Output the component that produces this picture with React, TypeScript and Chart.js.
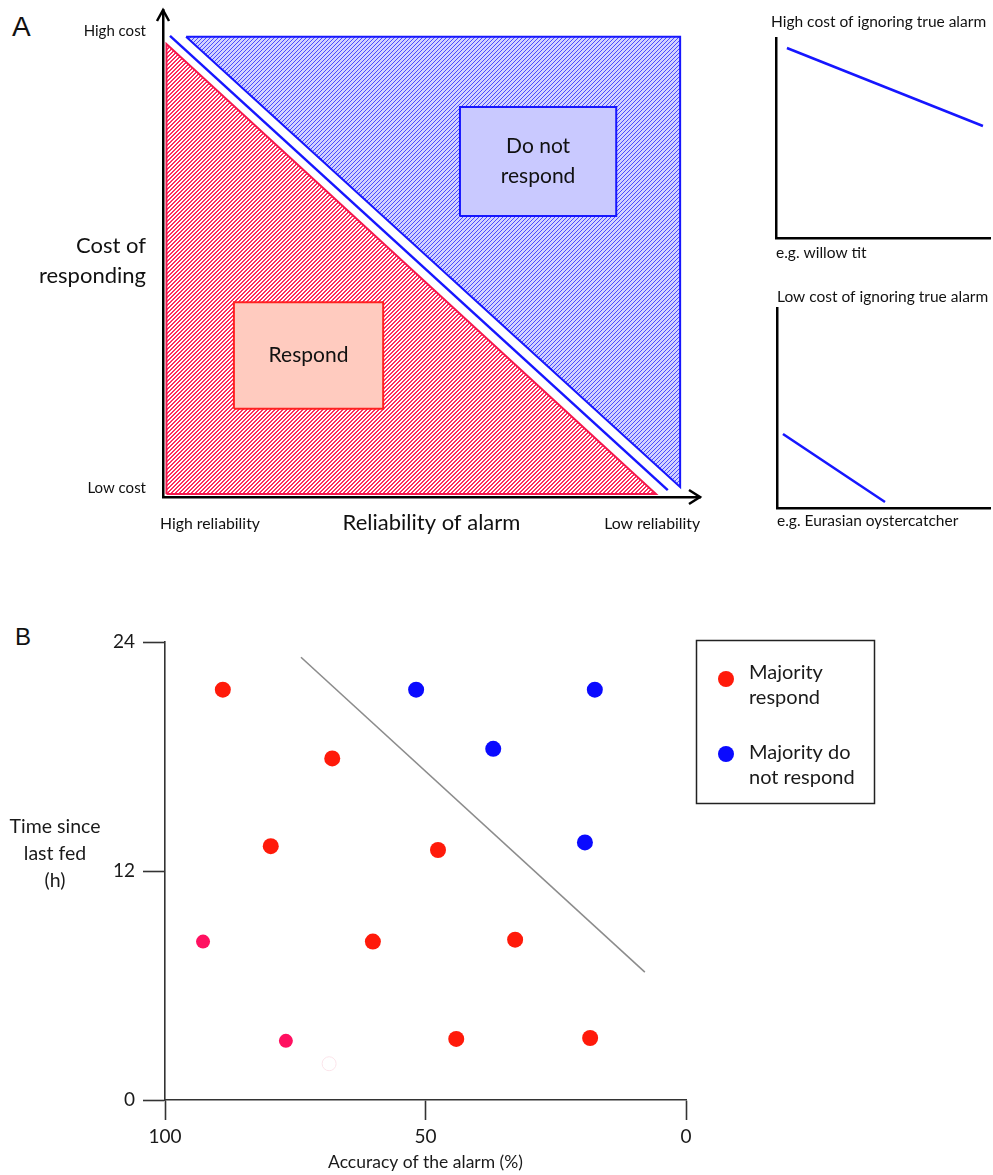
import React, { useEffect, useRef } from "react";
import { Chart, registerables } from "chart.js";

Chart.register(...registerables);

// ---------- Panel A: conceptual diagram (reliability 0..100 left→right, cost 0..100 bottom→top)
const RED_ZONE_X = [0.65, 0.65, 91.8];
const RED_ZONE_Y = [0.6, 93.0, 0.6];
const DIVIDER_X = [1.3, 94.0];
const DIVIDER_Y = [94.7, 1.4];
const BLUE_ZONE_X = [4.3, 96.3, 96.3];
const BLUE_ZONE_Y = [94.5, 94.5, 2.05];
const DNR_BOX_X = [55.3, 84.4];
const DNR_BOX_Y = [57.7, 80.1];
const RESP_BOX_X = [13.2, 41.0];
const RESP_BOX_Y = [18.1, 40.0];
const COST_TICKS = [1.85, 95.7];
const COST_LABELS = ["Low cost", "High cost"];
const RELIAB_TICKS = [8.75, 91.1];
const RELIAB_LABELS = ["High reliability", "Low reliability"];

// ---------- Panel A: small insets
const HIGH_COST_X = [5.1, 96.7];
const HIGH_COST_Y = [95.0, 56.0];
const LOW_COST_X = [2.8, 50.7];
const LOW_COST_Y = [37.0, 3.0];

// ---------- Panel B: scatter
const RESPOND_ACC = [88.9, 67.9, 79.7, 47.6, 92.7, 60.1, 32.8, 76.8, 44.1, 18.4];
const RESPOND_TIME = [21.5, 17.9, 13.3, 13.1, 8.3, 8.3, 8.4, 3.1, 3.2, 3.25];
const RESPOND_COLORS = ["#ff1a0a", "#ff1a0a", "#ff1a0a", "#ff1a0a", "#ff1060", "#ff1a0a", "#ff1a0a", "#ff1060", "#ff1a0a", "#ff1a0a"];
const NORESP_ACC = [51.8, 17.5, 37.0, 19.4];
const NORESP_TIME = [21.5, 21.5, 18.4, 13.5];
const GHOST_ACC = [68.5];
const GHOST_TIME = [1.9];
const BOUNDARY_ACC = [73.9, 7.9];
const BOUNDARY_TIME = [23.2, 6.7];
const ACC_TICKS = [0, 50, 100];
const TIME_TICKS = [0, 12, 24];
const LEGEND_LINES = [["Majority", "respond"], ["Majority do", "not respond"]];

const FONT = "Lato, 'Open Sans', sans-serif";
const RED = "#f5174d";
const BLUE = "#1616ff";

const pts = (xs: number[], ys: number[]) => xs.map((x, i) => ({ x, y: ys[i] }));
const closed = (xs: number[], ys: number[]) => [...pts(xs, ys), { x: xs[0], y: ys[0] }];
const boxFill = (bx: number[], by: number[]) => [
  { x: bx[0], y: by[0] }, { x: bx[0], y: by[1] }, { x: bx[1], y: by[1] }, { x: bx[1], y: by[0] },
];
const boxEdge = (bx: number[], by: number[]) => [...boxFill(bx, by), { x: bx[0], y: by[0] }];

// crisp pixel hatch: "/" diagonals, `thick` pixels wide, repeating every `size` pixels
function makeHatch(bg: string, line: string, thick: number, size: number) {
  const c = document.createElement("canvas");
  c.width = size;
  c.height = size;
  const g = c.getContext("2d")!;
  g.fillStyle = bg;
  g.fillRect(0, 0, size, size);
  g.fillStyle = line;
  for (let i = 0; i < size; i++) {
    for (let k = 0; k < thick; k++) {
      g.fillRect((i + k) % size, size - 1 - i, 1, 1);
    }
  }
  return g.createPattern(c, "repeat")!;
}

const lineBase = { pointRadius: 0, pointHoverRadius: 0, tension: 0 };

function useChart(ref: React.RefObject<HTMLCanvasElement | null>, build: () => any) {
  useEffect(() => {
    if (!ref.current) return;
    const chart = new Chart(ref.current, build());
    return () => chart.destroy();
  }, []);
}

const noPadX = (h: number) => (s: any) => { s.height = h; s.paddingLeft = 0; s.paddingRight = 0; };
const noPadY = (w: number) => (s: any) => { s.width = w; s.paddingTop = 0; s.paddingBottom = 0; };

function MainDiagram() {
  const ref = useRef<HTMLCanvasElement>(null);
  useChart(ref, () => {
    const redHatch = makeHatch("#ffffff", "#ff2d5e", 2, 4);
    const blueHatch = makeHatch("#d2d2ff", "#4a4aff", 1, 4);
    const textPlugin = {
      id: "panelAText",
      afterDraw(chart: any) {
        const { ctx, scales, chartArea } = chart;
        const x = scales.x, y = scales.y;
        ctx.save();
        ctx.fillStyle = "#111";
        ctx.textAlign = "center";
        ctx.textBaseline = "middle";
        ctx.font = `21px ${FONT}`;
        const dx = x.getPixelForValue((DNR_BOX_X[0] + DNR_BOX_X[1]) / 2);
        const dy = y.getPixelForValue((DNR_BOX_Y[0] + DNR_BOX_Y[1]) / 2);
        ctx.fillText("Do not", dx, dy - 15);
        ctx.fillText("respond", dx, dy + 15);
        const rx = x.getPixelForValue((RESP_BOX_X[0] + RESP_BOX_X[1]) / 2);
        const ry = y.getPixelForValue((RESP_BOX_Y[0] + RESP_BOX_Y[1]) / 2);
        ctx.fillText("Respond", rx, ry);
        ctx.font = `22px ${FONT}`;
        ctx.textAlign = "right";
        ctx.fillText("Cost of", 146, 246);
        ctx.fillText("responding", 146, 276);
        // arrowheads
        ctx.strokeStyle = "#000";
        ctx.lineWidth = 2.5;
        ctx.lineJoin = "miter";
        ctx.beginPath();
        ctx.moveTo(chartArea.left - 6, chartArea.top + 11);
        ctx.lineTo(chartArea.left, chartArea.top);
        ctx.lineTo(chartArea.left + 6, chartArea.top + 11);
        ctx.moveTo(chartArea.right - 11, chartArea.bottom - 7);
        ctx.lineTo(chartArea.right, chartArea.bottom);
        ctx.lineTo(chartArea.right - 11, chartArea.bottom + 7);
        ctx.stroke();
        ctx.restore();
      },
    };
    return {
      type: "line",
      data: {
        datasets: [
          { ...lineBase, label: "Respond zone", data: pts(RED_ZONE_X, RED_ZONE_Y), fill: { value: RED_ZONE_Y[0] }, backgroundColor: redHatch, borderWidth: 0, order: 9 },
          { ...lineBase, label: "Respond edge", data: closed(RED_ZONE_X, RED_ZONE_Y), fill: false, borderColor: RED, borderWidth: 2, order: 8 },
          { ...lineBase, label: "No-response zone", data: [{ x: BLUE_ZONE_X[0], y: BLUE_ZONE_Y[0] }, { x: BLUE_ZONE_X[2], y: BLUE_ZONE_Y[2] }], fill: { value: BLUE_ZONE_Y[0] }, backgroundColor: blueHatch, borderWidth: 0, order: 9 },
          { ...lineBase, label: "No-response edge", data: closed(BLUE_ZONE_X, BLUE_ZONE_Y), fill: false, borderColor: BLUE, borderWidth: 2, order: 8 },
          { ...lineBase, label: "Divider", data: pts(DIVIDER_X, DIVIDER_Y), fill: false, borderColor: BLUE, borderWidth: 2.5, order: 7 },
          { ...lineBase, label: "Respond box", data: boxFill(RESP_BOX_X, RESP_BOX_Y), fill: { value: RESP_BOX_Y[0] }, backgroundColor: "#ffcbbf", borderWidth: 0, order: 4 },
          { ...lineBase, label: "Respond box edge", data: boxEdge(RESP_BOX_X, RESP_BOX_Y), fill: false, borderColor: "#ff2222", borderWidth: 2, order: 3 },
          { ...lineBase, label: "Do not respond box", data: boxFill(DNR_BOX_X, DNR_BOX_Y), fill: { value: DNR_BOX_Y[0] }, backgroundColor: "#c9c9ff", borderWidth: 0, order: 4 },
          { ...lineBase, label: "Do not respond box edge", data: boxEdge(DNR_BOX_X, DNR_BOX_Y), fill: false, borderColor: BLUE, borderWidth: 2, order: 3 },
        ],
      },
      options: {
        responsive: false,
        animation: false,
        events: [],
        layout: { padding: { top: 10, right: 60, left: 0, bottom: 0 } },
        plugins: { legend: { display: false }, tooltip: { enabled: false } },
        scales: {
          x: {
            type: "linear", min: 0, max: 100,
            grid: { display: false, drawTicks: false },
            border: { display: true, color: "#000", width: 2.5 },
            afterBuildTicks: (s: any) => { s.ticks = RELIAB_TICKS.map((v) => ({ value: v })); },
            afterFit: noPadX(63),
            ticks: {
              autoSkip: false, maxRotation: 0, padding: 17, color: "#111",
              font: { family: FONT, size: 15.8 },
              callback: (v: number) => RELIAB_LABELS[RELIAB_TICKS.indexOf(v)],
            },
            title: { display: true, text: "Reliability of alarm", color: "#111", font: { family: FONT, size: 22 }, padding: { top: 0, bottom: 23.5 } },
          },
          y: {
            type: "linear", min: 0, max: 100,
            grid: { display: false, drawTicks: false },
            border: { display: true, color: "#000", width: 2.5 },
            afterBuildTicks: (s: any) => { s.ticks = COST_TICKS.map((v) => ({ value: v })); },
            afterFit: noPadY(163),
            ticks: {
              autoSkip: false, padding: 17, color: "#111",
              font: { family: FONT, size: 15 },
              callback: (v: number) => COST_LABELS[COST_TICKS.indexOf(v)],
            },
          },
        },
      },
      plugins: [textPlugin],
    };
  });
  return <canvas ref={ref} width={760} height={560} style={{ position: "absolute", left: 0, top: 0 }} />;
}

function Inset(props: {
  xs: number[]; ys: number[]; title: string; note: string;
  left: number; top: number; width: number; height: number;
  padLeft: number; yWidth: number; xHeight: number;
  titlePad: { top: number; bottom: number }; notePadBottom: number;
}) {
  const ref = useRef<HTMLCanvasElement>(null);
  useChart(ref, () => ({
    type: "line",
    data: {
      datasets: [
        { ...lineBase, label: props.title, data: pts(props.xs, props.ys), fill: false, borderColor: BLUE, borderWidth: 2.5 },
      ],
    },
    options: {
      responsive: false,
      animation: false,
      events: [],
      layout: { padding: { left: props.padLeft, right: 3, top: 0, bottom: 0 } },
      plugins: {
        legend: { display: false },
        tooltip: { enabled: false },
        title: {
          display: true, text: props.title, align: "start", color: "#111",
          font: { family: FONT, size: 15.5, weight: "normal" }, padding: props.titlePad,
        },
      },
      scales: {
        x: {
          type: "linear", min: 0, max: 100,
          grid: { display: false, drawTicks: false }, ticks: { display: false },
          border: { display: true, color: "#000", width: 2.5 },
          afterFit: noPadX(props.xHeight),
          title: { display: true, text: props.note, align: "start", color: "#111", font: { family: FONT, size: 15.5 }, padding: { top: 0, bottom: props.notePadBottom } },
        },
        y: {
          type: "linear", min: 0, max: 100,
          grid: { display: false, drawTicks: false }, ticks: { display: false },
          border: { display: true, color: "#000", width: 2.5 },
          afterFit: noPadY(props.yWidth),
        },
      },
    },
  }));
  return (
    <canvas
      ref={ref}
      width={props.width}
      height={props.height}
      style={{ position: "absolute", left: props.left, top: props.top }}
    />
  );
}

function ScatterB() {
  const ref = useRef<HTMLCanvasElement>(null);
  useChart(ref, () => {
    const annot = {
      id: "panelBAnnot",
      afterDraw(chart: any) {
        const { ctx, data } = chart;
        ctx.save();
        // y-axis title (horizontal, three lines)
        ctx.fillStyle = "#1a1a1a";
        ctx.font = `19.5px ${FONT}`;
        ctx.textAlign = "center";
        ctx.textBaseline = "middle";
        ctx.fillText("Time since", 55, 227);
        ctx.fillText("last fed", 55, 254);
        ctx.fillText("(h)", 55, 281);
        // legend box
        ctx.strokeStyle = "#222";
        ctx.lineWidth = 1.5;
        ctx.strokeRect(696.5, 40.5, 178, 163);
        ctx.font = `20px ${FONT}`;
        const rows = [
          { dot: 79, lines: [73, 98] },
          { dot: 154, lines: [153, 178] },
        ];
        rows.forEach((r, i) => {
          const ds = data.datasets[i];
          const col = Array.isArray(ds.backgroundColor) ? ds.backgroundColor[0] : ds.backgroundColor;
          ctx.fillStyle = col;
          ctx.beginPath();
          ctx.arc(726, r.dot, 8, 0, Math.PI * 2);
          ctx.fill();
          ctx.fillStyle = "#1a1a1a";
          ctx.textAlign = "left";
          LEGEND_LINES[i].forEach((t, j) => ctx.fillText(t, 749, r.lines[j]));
        });
        ctx.restore();
      },
    };
    return {
      type: "scatter",
      data: {
        datasets: [
          { label: "Majority respond", data: pts(RESPOND_ACC, RESPOND_TIME), backgroundColor: RESPOND_COLORS, borderWidth: 0, pointRadius: RESPOND_COLORS.map((c) => (c === "#ff1060" ? 7 : 8)), order: 1 },
          { label: "Majority do not respond", data: pts(NORESP_ACC, NORESP_TIME), backgroundColor: "#0a0aff", borderWidth: 0, pointRadius: 8, order: 1 },
          { label: "faint mark", data: pts(GHOST_ACC, GHOST_TIME), backgroundColor: "rgba(255,255,255,0)", borderColor: "#fbe4ea", borderWidth: 1, pointRadius: 7, order: 2 },
          { label: "Boundary", data: pts(BOUNDARY_ACC, BOUNDARY_TIME), showLine: true, borderColor: "#8c8c8c", borderWidth: 1.6, pointRadius: 0, fill: false, order: 3 },
        ],
      },
      options: {
        responsive: false,
        animation: false,
        events: [],
        layout: { padding: { top: 42, right: 307, left: 0, bottom: 0 } },
        plugins: { legend: { display: false }, tooltip: { enabled: false } },
        scales: {
          x: {
            type: "linear", min: 0, max: 100, reverse: true,
            afterBuildTicks: (s: any) => { s.ticks = ACC_TICKS.map((v) => ({ value: v })); },
            afterFit: noPadX(75),
            grid: { display: true, drawOnChartArea: false, drawTicks: true, tickLength: 20, tickColor: "#333", tickWidth: 1.6, color: "#333" },
            border: { display: true, color: "#333", width: 1.6 },
            ticks: { padding: 5, color: "#1a1a1a", font: { family: FONT, size: 19 }, maxRotation: 0, autoSkip: false },
            title: { display: true, text: "Accuracy of the alarm (%)", color: "#1a1a1a", font: { family: FONT, size: 17.5 }, padding: { top: 0, bottom: 2 } },
          },
          y: {
            type: "linear", min: 0, max: 24,
            afterBuildTicks: (s: any) => { s.ticks = TIME_TICKS.map((v) => ({ value: v })); },
            afterFit: noPadY(165),
            grid: { display: true, drawOnChartArea: false, drawTicks: true, tickLength: 22, tickColor: "#333", tickWidth: 1.6, color: "#333" },
            border: { display: true, color: "#333", width: 1.6 },
            ticks: { padding: 8, color: "#1a1a1a", font: { family: FONT, size: 19 }, autoSkip: false },
          },
        },
      },
      plugins: [annot],
    };
  });
  return <canvas ref={ref} width={993} height={575} style={{ position: "absolute", left: 0, top: 600 }} />;
}

const letterStyle: React.CSSProperties = {
  position: "absolute",
  fontFamily: "'Liberation Sans', Arial, sans-serif",
  color: "#111",
  lineHeight: 1,
};

export default function App() {
  return (
    <div style={{ position: "absolute", left: 0, top: 0, width: 993, height: 1175, overflow: "hidden", background: "#fff" }}>
      <div style={{ ...letterStyle, left: 12, top: 13, fontSize: 28 }}>A</div>
      <div style={{ ...letterStyle, left: 15, top: 625, fontSize: 24 }}>B</div>
      <MainDiagram />
      <Inset
        xs={HIGH_COST_X} ys={HIGH_COST_Y}
        title="High cost of ignoring true alarm" note="e.g. willow tit"
        left={766} top={0} width={227} height={270}
        padLeft={5} yWidth={5} xHeight={32}
        titlePad={{ top: 12.7, bottom: 6.7 }} notePadBottom={7.7}
      />
      <Inset
        xs={LOW_COST_X} ys={LOW_COST_Y}
        title="Low cost of ignoring true alarm" note="e.g. Eurasian oystercatcher"
        left={770} top={280} width={223} height={255}
        padLeft={7} yWidth={0} xHeight={27}
        titlePad={{ top: 7.7, bottom: 1.7 }} notePadBottom={4.7}
      />
      <ScatterB />
    </div>
  );
}
